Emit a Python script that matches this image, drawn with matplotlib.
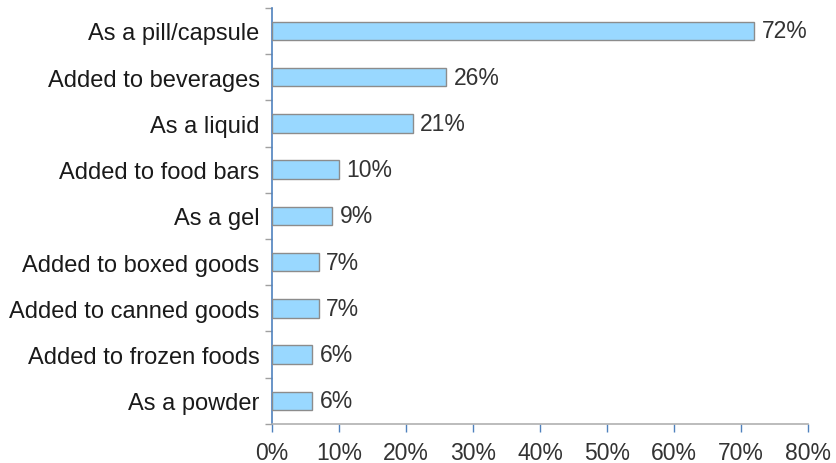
import matplotlib
matplotlib.use("Agg")
import matplotlib.pyplot as plt
from matplotlib.ticker import FuncFormatter, FixedLocator

categories = [
    "As a pill/capsule",
    "Added to beverages",
    "As a liquid",
    "Added to food bars",
    "As a gel",
    "Added to boxed goods",
    "Added to canned goods",
    "Added to frozen foods",
    "As a powder",
]
values = [72, 26, 21, 10, 9, 7, 7, 6, 6]
x_ticks = [0, 10, 20, 30, 40, 50, 60, 70, 80]

plt.rcParams["font.family"] = ["Liberation Sans", "DejaVu Sans"]
FS = 16.5

fig = plt.figure(figsize=(8.36, 4.64), dpi=100)
ax = fig.add_axes([0.3254, 0.0841, 0.641, 0.897])

n = len(categories)
ypos = list(range(n))[::-1]
ax.barh(ypos, values, height=0.4, color="#99d8ff", edgecolor="#8c8c8c", linewidth=1.0, zorder=3)

for y, v in zip(ypos, values):
    ax.text(v + 1.1, y, f"{v}%", va="center", ha="left", fontsize=FS, color="#333333")

ax.set_xlim(0, 80)
ax.set_ylim(-0.5, n - 0.5)
ax.xaxis.set_major_locator(FixedLocator(x_ticks))
ax.xaxis.set_major_formatter(FuncFormatter(lambda x, p: f"{int(x)}%"))

ax.set_yticks(ypos)
ax.set_yticklabels(categories)
ax.yaxis.set_minor_locator(FixedLocator([i - 0.5 for i in range(n + 1)]))
ax.tick_params(axis="y", which="major", length=0, pad=9, labelsize=17, labelcolor="#1a1a1a")
ax.tick_params(axis="y", which="minor", length=5, color="#a0a0a0", width=1)
ax.tick_params(axis="x", which="major", length=6, color="#4f81bd", width=1, pad=6,
               labelsize=FS, labelcolor="#333333")

for s in ["top", "right"]:
    ax.spines[s].set_visible(False)
ax.spines["left"].set_color("#4f81bd")
ax.spines["left"].set_linewidth(1.2)
ax.spines["bottom"].set_color("#b0b0b0")
ax.spines["bottom"].set_linewidth(1.2)

fig.savefig("out.png", dpi=100)
